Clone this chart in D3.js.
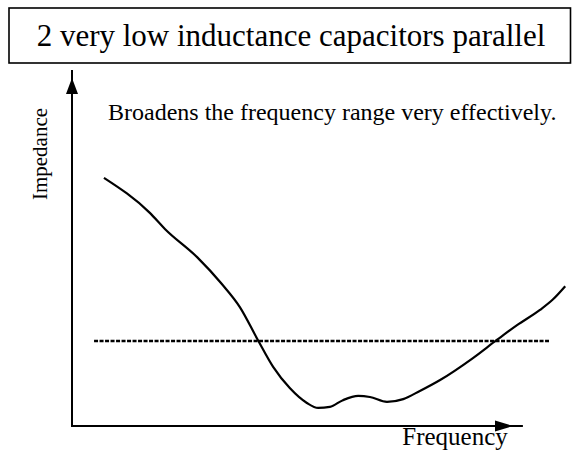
<!DOCTYPE html>
<html>
<head>
<meta charset="utf-8">
<script src="https://cdn.jsdelivr.net/npm/d3@7"></script>
<style>
  body { margin: 0; background: #fff; }
</style>
</head>
<body>
<svg id="chart" width="572" height="450"></svg>
<script>
// curve (frequency / impedance, arbitrary units)
var frequency = [7.1, 17.3, 20.7, 27.8, 33.3, 37.3, 41.3, 44.7, 48.4, 52.2, 54.7, 57.3, 60.2, 63.6, 66.2, 70, 73.6, 77.3, 81.8, 89.1, 94.4, 98.9, 104, 106.9, 109.6];
var impedance = [70.1, 60.2, 55.6, 47.7, 40.1, 33.6, 24.3, 16.7, 10.7, 6.5, 5.1, 5.4, 7.3, 8.5, 8.2, 6.8, 7.6, 9.9, 13, 19.2, 24.3, 28.5, 32.8, 35.8, 39.5];
var targetLevel = 24;          // dotted line
var targetFrom = 4.9, targetTo = 106;
var axisEndX = 100.2, axisEndY = 100.6;

var titleText = "2 very low inductance capacitors parallel";
var noteText = "Broadens the frequency range very effectively.";

var serif = "Liberation Serif";

var svg = d3.select("#chart");

var x = d3.scaleLinear().domain([0, 110]).range([72, 567]);
var y = d3.scaleLinear().domain([0, 100]).range([426, 72]);

// title box
svg.append("rect")
    .attr("x", 9).attr("y", 8)
    .attr("width", 561.5).attr("height", 55)
    .attr("fill", "none").attr("stroke", "#000").attr("stroke-width", 1.6);
svg.append("text")
    .attr("x", 291).attr("y", 46)
    .attr("text-anchor", "middle")
    .attr("font-family", serif)
    .attr("font-size", 31)
    .text(titleText);

// axes
svg.append("line")
    .attr("x1", x(0)).attr("y1", y(0))
    .attr("x2", x(0)).attr("y2", y(axisEndY))
    .attr("stroke", "#000").attr("stroke-width", 2);
svg.append("line")
    .attr("x1", x(0) - 1).attr("y1", y(0))
    .attr("x2", x(axisEndX)).attr("y2", y(0))
    .attr("stroke", "#000").attr("stroke-width", 2);

// arrow heads (sit a bit before the axis ends)
var ax = x(0), ay = y(0);
svg.append("path")
    .attr("d", "M" + ax + ",78 L" + (ax - 6) + ",94 L" + (ax + 6) + ",94 Z")
    .attr("fill", "#000");
svg.append("path")
    .attr("d", "M513," + ay + " L495," + (ay - 5.5) + " L495," + (ay + 5.5) + " Z")
    .attr("fill", "#000");

// axis labels
svg.append("text")
    .attr("transform", "translate(47,154) rotate(-90)")
    .attr("text-anchor", "middle")
    .attr("font-family", serif)
    .attr("font-size", 21)
    .text("Impedance");
svg.append("text")
    .attr("x", 455).attr("y", 445)
    .attr("text-anchor", "middle")
    .attr("font-family", serif)
    .attr("font-size", 25)
    .text("Frequency");

svg.append("text")
    .attr("x", 108).attr("y", 120)
    .attr("font-family", serif)
    .attr("font-size", 24)
    .text(noteText);

// dotted target line
svg.append("line")
    .attr("x1", x(targetFrom)).attr("y1", y(targetLevel))
    .attr("x2", x(targetTo)).attr("y2", y(targetLevel))
    .attr("stroke", "#000").attr("stroke-width", 2.5)
    .attr("stroke-dasharray", "4,1.5");

// impedance curve
var pts = frequency.map(function(f, i){ return [f, impedance[i]]; });
var line = d3.line()
    .x(function(d){ return x(d[0]); })
    .y(function(d){ return y(d[1]); })
    .curve(d3.curveMonotoneX);
svg.append("path")
    .datum(pts)
    .attr("d", line)
    .attr("fill", "none")
    .attr("stroke", "#000")
    .attr("stroke-width", 2.2);
</script>
</body>
</html>
